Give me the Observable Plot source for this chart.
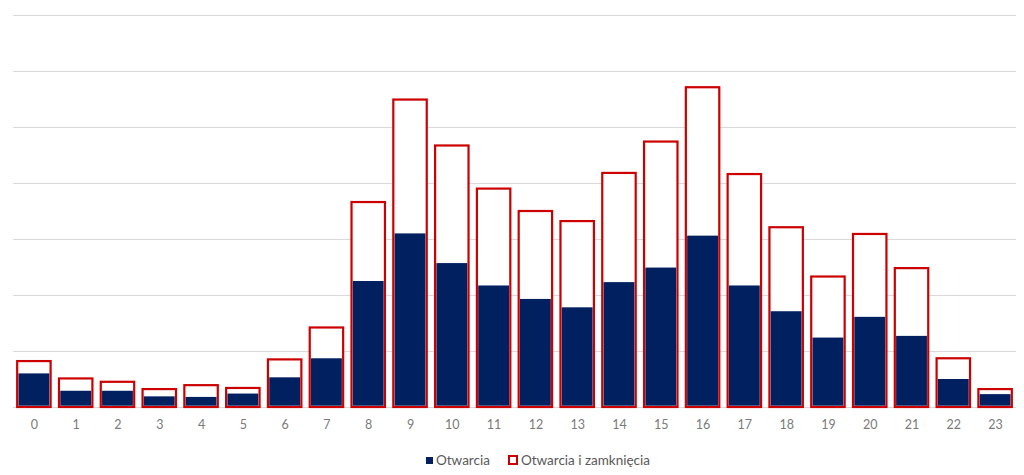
<!DOCTYPE html>
<html><head><meta charset="utf-8">
<script src="https://cdn.jsdelivr.net/npm/d3@7"></script>
<script src="https://cdn.jsdelivr.net/npm/@observablehq/plot@0.6"></script>
<style>
body{margin:0;background:#fff;font-family:Lato,"Open Sans",sans-serif;}
#legend{display:flex;justify-content:center;align-items:center;gap:18px;height:30px;font-size:13.5px;color:#595959;padding-left:52px;}
.item{display:flex;align-items:center;gap:3px;}
.sw1{width:7px;height:7px;background:#002060;}
.sw2{width:6px;height:6px;border:2px solid #cc0000;background:#fff;}
</style></head><body><div id="chart"></div><div id="legend"></div>
<script>
const hours = ["0","1","2","3","4","5","6","7","8","9","10","11","12","13","14","15","16","17","18","19","20","21","22","23"];
const otwarcia = [60,29,29,19,18,24,53,87,225,310,257,217,193,178,223,249,306,217,171,124,161,127,50,23];
const otwarciaIZamkniecia = [82,51,45,32,39,34,85,142,366,549,467,390,350,332,418,474,571,416,321,233,309,248,87,32];
const gridTicks = [0,100,200,300,400,500,600,700];
const seriesNames = ["Otwarcia","Otwarcia i zamknięcia"];

const data = hours.map((h,i)=>({hour:h, open:otwarcia[i], total:otwarciaIZamkniecia[i]}));
const chart = Plot.plot({
  width:1024, height:445, marginLeft:13, marginRight:8, marginTop:15, marginBottom:38,
  x:{domain:hours, paddingInner:0.2, paddingOuter:0.1, round:false, label:null, tickSize:0, tickPadding:13},
  y:{domain:[0,700], axis:null},
  style:{fontFamily:"Lato, 'Open Sans', sans-serif", fontSize:"12.5px", color:"#7a7a7a", background:"#fff"},
  marks:[
    Plot.ruleY(gridTicks,{stroke:"#d9d9d9", strokeWidth:1}),
    Plot.barY(data,{x:"hour", y:"total", fill:"white", stroke:"#cc0000", strokeWidth:2.2}),
    Plot.barY(data,{x:"hour", y:"open", fill:"#002060", insetLeft:1.3, insetRight:1.3, insetBottom:1.3})
  ]
});
document.getElementById("chart").appendChild(chart);
const lg = document.getElementById("legend");
lg.innerHTML = `<div class="item"><div class="sw1"></div><span>${seriesNames[0]}</span></div><div class="item"><div class="sw2"></div><span>${seriesNames[1]}</span></div>`;
</script>
</body></html>
